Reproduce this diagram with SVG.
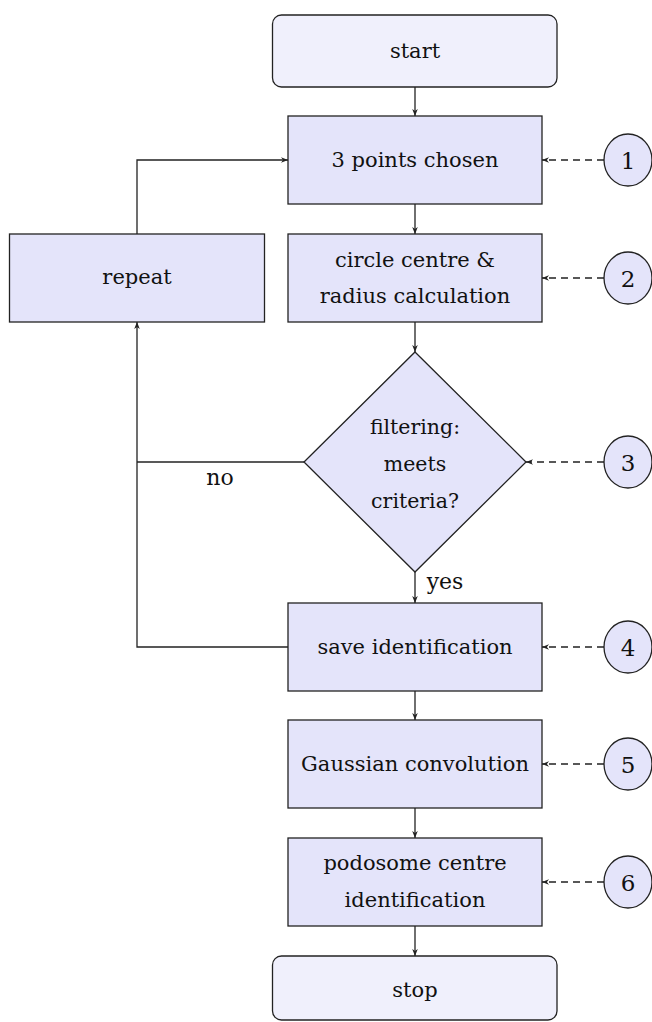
<svg xmlns="http://www.w3.org/2000/svg" width="652" height="1022" viewBox="0 0 652 1022">
<style>
.box{fill:#e4e4fa;stroke:#222;stroke-width:1.3}
.term{fill:#f0f0fc;stroke:#222;stroke-width:1.3}
.circ{fill:#e4e4fa;stroke:#222;stroke-width:1.3}
text{font-family:'DejaVu Serif','Liberation Serif','Times New Roman',serif;font-size:21px;fill:#111;text-anchor:middle;dominant-baseline:central}
.n{font-size:23px}
.dm{font-size:20.5px}
.lb{font-size:22px}
.c{fill:none;stroke:#222;stroke-width:1.3}
.d{fill:none;stroke:#222;stroke-width:1.3;stroke-dasharray:7,5}
</style>
<defs>
<marker id="ah" viewBox="0 0 10 10" refX="10" refY="5" markerWidth="7" markerHeight="7" markerUnits="userSpaceOnUse" orient="auto">
<path d="M0,1 L10,5 L0,9 L3,5 Z" fill="#222"/>
</marker>
</defs>
<g id="connectors">
<path class="c" d="M415,87 V116" marker-end="url(#ah)"/>
<path class="c" d="M415,204 V234" marker-end="url(#ah)"/>
<path class="c" d="M415,322 V352" marker-end="url(#ah)"/>
<path class="c" d="M415,572 V603" marker-end="url(#ah)"/>
<path class="c" d="M415,691 V720" marker-end="url(#ah)"/>
<path class="c" d="M415,808 V838" marker-end="url(#ah)"/>
<path class="c" d="M415,926 V956" marker-end="url(#ah)"/>
<path class="c" d="M137,234 V160 H288" marker-end="url(#ah)"/>
<path class="c" d="M304,462 H137"/>
<path class="c" d="M288,647 H137 V322" marker-end="url(#ah)"/>
<path class="d" d="M604,160 H542" marker-end="url(#ah)"/>
<path class="d" d="M604,278 H542" marker-end="url(#ah)"/>
<path class="d" d="M604,462 H526" marker-end="url(#ah)"/>
<path class="d" d="M604,647 H542" marker-end="url(#ah)"/>
<path class="d" d="M604,764 H542" marker-end="url(#ah)"/>
<path class="d" d="M604,882 H542" marker-end="url(#ah)"/>
<text class="lb" x="220" y="477">no</text>
<text class="lb" x="445" y="581">yes</text>
</g>
<g id="start"><rect class="term" x="272.5" y="15" width="284.5" height="72" rx="9"/><text x="415" y="51">start</text></g>
<g id="chosen"><rect class="box" x="288" y="116" width="254" height="88"/><text x="415" y="160">3 points chosen</text></g>
<g id="calc"><rect class="box" x="288" y="234" width="254" height="88"/><text x="415" y="260">circle centre &amp;</text><text x="415" y="296">radius calculation</text></g>
<g id="repeat"><rect class="box" x="9.5" y="234" width="255" height="88"/><text x="137" y="277">repeat</text></g>
<g id="filter"><path class="box" d="M415,352 L526,462 L415,572 L304,462 Z"/><text class="dm" x="415" y="427">filtering:</text><text class="dm" x="415" y="464">meets</text><text class="dm" x="415" y="501">criteria?</text></g>
<g id="save"><rect class="box" x="288" y="603" width="254" height="88"/><text x="415" y="647">save identification</text></g>
<g id="gauss"><rect class="box" x="288" y="720" width="254" height="88"/><text x="415" y="764">Gaussian convolution</text></g>
<g id="podo"><rect class="box" x="288" y="838" width="254" height="88"/><text x="415" y="863">podosome centre</text><text x="415" y="900">identification</text></g>
<g id="stop"><rect class="term" x="272.5" y="956" width="284.5" height="64" rx="9"/><text x="415" y="990">stop</text></g>
<g id="c1"><ellipse class="circ" cx="628" cy="160" rx="24" ry="26"/><text class="n" x="628" y="161">1</text></g>
<g id="c2"><ellipse class="circ" cx="628" cy="278" rx="24" ry="26"/><text class="n" x="628" y="279">2</text></g>
<g id="c3"><ellipse class="circ" cx="628" cy="462" rx="24" ry="26"/><text class="n" x="628" y="463">3</text></g>
<g id="c4"><ellipse class="circ" cx="628" cy="647" rx="24" ry="26"/><text class="n" x="628" y="648">4</text></g>
<g id="c5"><ellipse class="circ" cx="628" cy="764" rx="24" ry="26"/><text class="n" x="628" y="765">5</text></g>
<g id="c6"><ellipse class="circ" cx="628" cy="882" rx="24" ry="26"/><text class="n" x="628" y="883">6</text></g>
</svg>
